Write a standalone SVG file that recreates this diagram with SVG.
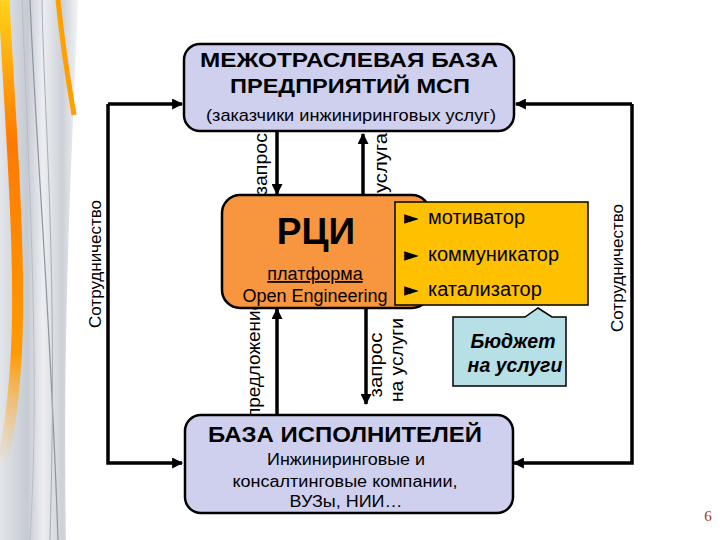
<svg xmlns="http://www.w3.org/2000/svg" width="720" height="540" viewBox="0 0 720 540">
<defs>
<style>
.box{stroke:#000;stroke-width:2.5}
.ln{fill:none;stroke:#000;stroke-width:3.5}
.t{font-family:"Liberation Sans",Arial,sans-serif;fill:#000}
.b{font-weight:bold}
.bul{font-family:"DejaVu Sans",sans-serif;font-size:19px}
</style>
<marker id="ah" viewBox="0 0 10 10" refX="9" refY="5" markerWidth="12" markerHeight="11" markerUnits="userSpaceOnUse" orient="auto">
<path d="M0,0 L10,5 L0,10 Z" fill="#000"/>
</marker>
<linearGradient id="gbg" x1="0" y1="0" x2="1" y2="0">
<stop offset="0" stop-color="#e2e5ea"/>
<stop offset="0.35" stop-color="#c6cbd2"/>
<stop offset="0.55" stop-color="#eceef1"/>
<stop offset="0.8" stop-color="#cdd1d7"/>
<stop offset="1" stop-color="#f3f4f6"/>
</linearGradient>
<linearGradient id="gor" x1="0" y1="0" x2="0" y2="1">
<stop offset="0" stop-color="#ffd21a"/>
<stop offset="0.3" stop-color="#ff7a00"/>
<stop offset="0.75" stop-color="#ff9a00"/>
<stop offset="1" stop-color="#ffc870" stop-opacity="0"/>
</linearGradient>
</defs>
<rect width="720" height="540" fill="#fff"/>
<g id="decor">
<path d="M0,0 L78,0 C74,120 62,300 66,540 L0,540 Z" fill="url(#gbg)"/>
<path d="M4,0 C10,120 22,260 16,360 C12,420 6,450 0,470" fill="none" stroke="url(#gor)" stroke-width="11"/>
<path d="M58,0 C62,40 68,80 74,115" fill="none" stroke="#ffa000" stroke-width="5"/>
<path d="M30,0 C36,150 50,300 58,540" fill="none" stroke="#8e949c" stroke-width="1.2"/>
<path d="M42,0 C44,120 58,260 50,540" fill="none" stroke="#a7adb5" stroke-width="1"/>
<path d="M22,0 C30,200 40,380 30,540" fill="none" stroke="#b9bec5" stroke-width="1"/>
</g>
<g id="connectors">
<path class="ln" d="M108,104 H182" marker-end="url(#ah)"/>
<path class="ln" d="M108,104 V463 H182" marker-end="url(#ah)"/>
<path class="ln" d="M632,104 H516" marker-end="url(#ah)"/>
<path class="ln" d="M632,104 V463 H514" marker-end="url(#ah)"/>
<path class="ln" d="M277,131 V194" marker-end="url(#ah)"/>
<path class="ln" d="M363,194 V134" marker-end="url(#ah)"/>
<path class="ln" d="M277,416 V309" marker-end="url(#ah)"/>
<path class="ln" d="M366,308 V404" marker-end="url(#ah)"/>
<text class="t" font-size="16" textLength="128" lengthAdjust="spacingAndGlyphs" text-anchor="middle" transform="translate(101,264) rotate(-90)">Сотрудничество</text>
<text class="t" font-size="16" textLength="128" lengthAdjust="spacingAndGlyphs" text-anchor="middle" transform="translate(623,268) rotate(-90)">Сотрудничество</text>
<text class="t" font-size="18" textLength="62" lengthAdjust="spacingAndGlyphs" text-anchor="middle" transform="translate(267,164) rotate(-90)">запрос</text>
<text class="t" font-size="18" textLength="60" lengthAdjust="spacingAndGlyphs" text-anchor="middle" transform="translate(387,163) rotate(-90)">услуга</text>
<text class="t" font-size="18" textLength="118" lengthAdjust="spacingAndGlyphs" text-anchor="middle" transform="translate(260,359) rotate(-90)">предложение</text>
<text class="t" font-size="18" textLength="65" lengthAdjust="spacingAndGlyphs" text-anchor="middle" transform="translate(382,365) rotate(-90)">запрос</text>
<text class="t" font-size="18" textLength="84" lengthAdjust="spacingAndGlyphs" text-anchor="middle" transform="translate(403,360) rotate(-90)">на услуги</text>
</g>
<g id="top-base">
<rect class="box" x="184" y="44" width="330" height="87" rx="16" fill="#cfd0ee"/>
<text class="t b" x="349" y="67" font-size="21" text-anchor="middle" textLength="298" lengthAdjust="spacingAndGlyphs">МЕЖОТРАСЛЕВАЯ БАЗА</text>
<text class="t b" x="350" y="93" font-size="21" text-anchor="middle" textLength="240" lengthAdjust="spacingAndGlyphs">ПРЕДПРИЯТИЙ МСП</text>
<text class="t" x="351" y="121" font-size="17" text-anchor="middle" textLength="290" lengthAdjust="spacingAndGlyphs">(заказчики инжиниринговых услуг)</text>
</g>
<g id="rci">
<rect class="box" x="222" y="195" width="208" height="113" rx="18" fill="#f7963e"/>
<text class="t b" x="316" y="244" font-size="37" text-anchor="middle">РЦИ</text>
<text class="t" x="315" y="280" font-size="18" text-anchor="middle" text-decoration="underline">платформа</text>
<text class="t" x="315" y="302" font-size="18" text-anchor="middle">Open Engineering</text>
</g>
<g id="roles">
<rect x="395" y="202" width="193" height="103" fill="#ffc000" stroke="#000" stroke-width="1.5"/>
<text class="t" x="404" y="224" font-size="20"><tspan class="bul">►</tspan> <tspan x="428">мотиватор</tspan></text>
<text class="t" x="404" y="261" font-size="20"><tspan class="bul">►</tspan> <tspan x="428">коммуникатор</tspan></text>
<text class="t" x="404" y="296" font-size="20"><tspan class="bul">►</tspan> <tspan x="428">катализатор</tspan></text>
</g>
<g id="budget">
<path d="M453,317 H525 L538,308 L552,317 H566 V386 H453 Z" fill="#b7dfe6" stroke="#000" stroke-width="1.5"/>
<text class="t b" x="513" y="348" font-size="19.5" font-style="italic" text-anchor="middle">Бюджет</text>
<text class="t b" x="515" y="372" font-size="19.5" font-style="italic" text-anchor="middle">на услуги</text>
</g>
<g id="bottom-base">
<rect class="box" x="185" y="415" width="328" height="98" rx="16" fill="#cfd0ee"/>
<text class="t b" x="345" y="442" font-size="22" text-anchor="middle" textLength="274" lengthAdjust="spacingAndGlyphs">БАЗА ИСПОЛНИТЕЛЕЙ</text>
<text class="t" x="346" y="465" font-size="16" text-anchor="middle" textLength="158" lengthAdjust="spacingAndGlyphs">Инжиниринговые и</text>
<text class="t" x="345" y="487" font-size="16" text-anchor="middle" textLength="225" lengthAdjust="spacingAndGlyphs">консалтинговые компании,</text>
<text class="t" x="346" y="507" font-size="16" text-anchor="middle" textLength="113" lengthAdjust="spacingAndGlyphs">ВУЗы, НИИ…</text>
</g>
<text x="708" y="521" font-family="Liberation Serif,serif" font-size="15" fill="#9c3a1c" text-anchor="middle">6</text>
</svg>
